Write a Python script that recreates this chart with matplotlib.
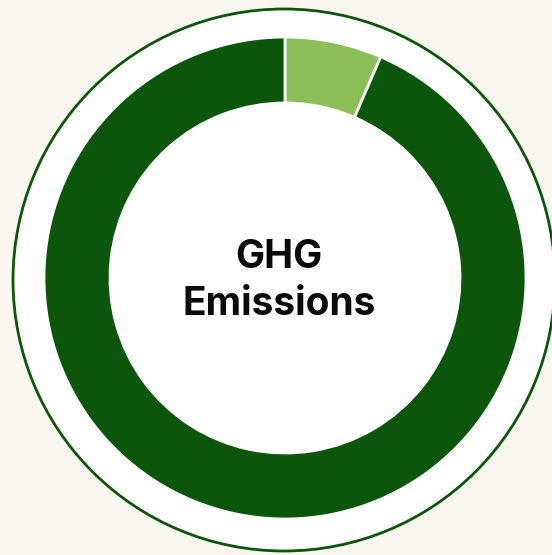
import matplotlib
matplotlib.use("Agg")
import matplotlib.pyplot as plt
from matplotlib.patches import Circle

# donut shares (percent)
categories = ["Reduced", "Remaining"]
shares = [6.5, 93.5]
colors = ["#8cbf58", "#0b560b"]
center_label = "GHG\nEmissions"

W, H = 552, 555
fig = plt.figure(figsize=(W / 100, H / 100), dpi=100)
fig.patch.set_facecolor("#f9f6f0")
ax = fig.add_axes([0, 0, 1, 1])

# outer white disc with green rim
ax.add_patch(Circle((284, H - 280), 271, facecolor="white",
                    edgecolor="#0b560b", linewidth=2, zorder=1))

cx, cy = 285, H - 278
ax.pie(shares, colors=colors, startangle=90, counterclock=False,
       center=(cx, cy), radius=241, frame=True,
       wedgeprops=dict(width=66, edgecolor="white", linewidth=2))
ax.set_xlim(0, W)
ax.set_ylim(0, H)
ax.set_aspect("equal")
ax.axis("off")
for p in ax.patches[1:]:
    p.set_zorder(2)

ax.text(cx - 6, H - 281, center_label, ha="center", va="center",
        fontsize=28, fontweight="bold", family=["Inter", "Liberation Sans"],
        linespacing=1.35, color="#0a0a0a", zorder=3)

fig.savefig("out.png", dpi=100, facecolor=fig.get_facecolor())
